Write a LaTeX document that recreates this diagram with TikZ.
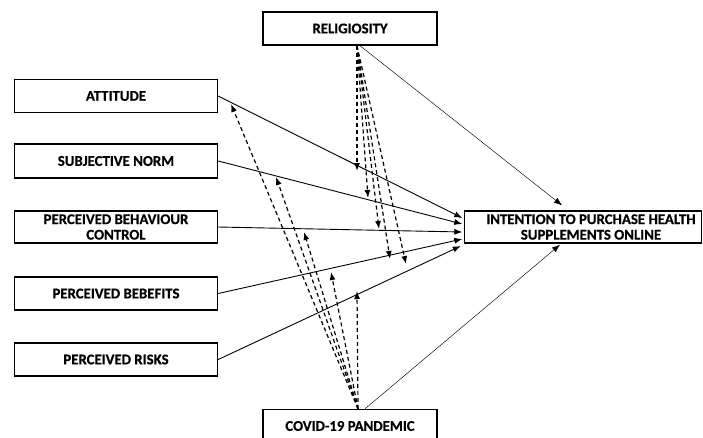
\documentclass[tikz,border=0pt]{standalone}
\usepackage{fontspec}
\setmainfont{Carlito}[BoldFeatures={FakeBold=0.6}]
\usetikzlibrary{arrows.meta,positioning,calc}

\begin{document}
\begin{tikzpicture}[x=1pt,y=-1pt,
    box/.style={draw,rectangle,line width=1.4pt,inner sep=0pt,align=center,
      font=\bfseries\fontsize{14.8}{15.5}\selectfont},
    boxtext/.style={inner sep=0pt,align=center,font=\bfseries\fontsize{14.8}{15.5}\selectfont},
    effect/.style={-{Latex[length=8pt,width=6pt]},line width=0.9pt},
    direct/.style={-{Latex[length=8pt,width=6pt]},line width=0.45pt},
    moder/.style={-{Latex[length=8pt,width=6pt]},dash pattern=on 4pt off 3pt,line width=1.2pt}]
    \useasboundingbox (0,0) rectangle (703,437);

    \node[box,minimum width=174pt,minimum height=33pt] (rel) at (350,28.5) {RELIGIOSITY};

    \node[box,minimum width=203pt,minimum height=33pt] (att) at (116,96) {ATTITUDE};
    \node[box,minimum width=203pt,minimum height=34pt] (sn) at (116,161) {SUBJECTIVE NORM};
    \node[box,minimum width=203pt,minimum height=32pt] (pbc) at (116,227) {PERCEIVED BEHAVIOUR\\CONTROL};
    \node[box,minimum width=203pt,minimum height=33pt] (ben) at (116,293.5) {PERCEIVED BEBEFITS};
    \node[box,minimum width=203pt,minimum height=33pt] (risk) at (116,359.5) {PERCEIVED RISKS};

    \node[box,minimum width=237pt,minimum height=32pt] (intent) at (583,227) {};
    \node[boxtext] (intenttext) at ($(intent.center)+(8,0)$) {INTENTION TO PURCHASE HEALTH\\SUPPLEMENTS ONLINE};

    \node[box,minimum width=174pt,minimum height=33pt] (covid) at (350,426) {COVID-19 PANDEMIC};

    % end points on the intention box
    \coordinate (e1) at ($(intent.west)+(-1.5,-9)$);
    \coordinate (e2) at ($(intent.west)+(-1.5,-3)$);
    \coordinate (e3) at ($(intent.west)+(-1.5,5)$);
    \coordinate (e4) at ($(intent.west)+(-1.5,12)$);
    \coordinate (e5) at ($(intent.west)+(-3,19)$);

    \draw[effect] (att.east) -- (e1);
    \draw[effect] (sn.east) -- (e2);
    \draw[effect] (pbc.east) -- (e3);
    \draw[effect] (ben.east) -- (e4);
    \draw[effect] (risk.east) -- (e5);

    % direct effects of the moderators
    \coordinate (rs) at ($(rel.south)+(7,0)$);
    \coordinate (rt) at ($(rel.south)+(10,0)$);
    \coordinate (cs) at ($(covid.north)+(8,0)$);
    \coordinate (ct) at ($(covid.north)+(15,0)$);
    \coordinate (it) at ($(intent.north)+(-21,-5)$);
    \coordinate (ib) at ($(intent.south)+(-23,1)$);

    \draw[direct] (rt) -- (it);
    \draw[direct] (ct) -- (ib);

    % religiosity as moderator
    \coordinate (r1) at (357,171);
    \coordinate (r2) at (368,198);
    \coordinate (r3) at (379,229);
    \coordinate (r4) at (390,259);
    \coordinate (r5) at (406,264);

    \draw[moder] (rs) -- (r1);
    \draw[moder] (rs) -- (r2);
    \draw[moder] (rs) -- (r3);
    \draw[moder] (rs) -- (r4);
    \draw[moder] (rs) -- (r5);

    % covid-19 as moderator
    \coordinate (c1) at (231,104);
    \coordinate (c2) at (276,177);
    \coordinate (c3) at (304,232);
    \coordinate (c4) at (331,272);
    \coordinate (c5) at (357,291);

    \draw[moder] (cs) -- (c1);
    \draw[moder] (cs) -- (c2);
    \draw[moder] (cs) -- (c3);
    \draw[moder] (cs) -- (c4);
    \draw[moder] (cs) -- (c5);
\end{tikzpicture}
\end{document}
